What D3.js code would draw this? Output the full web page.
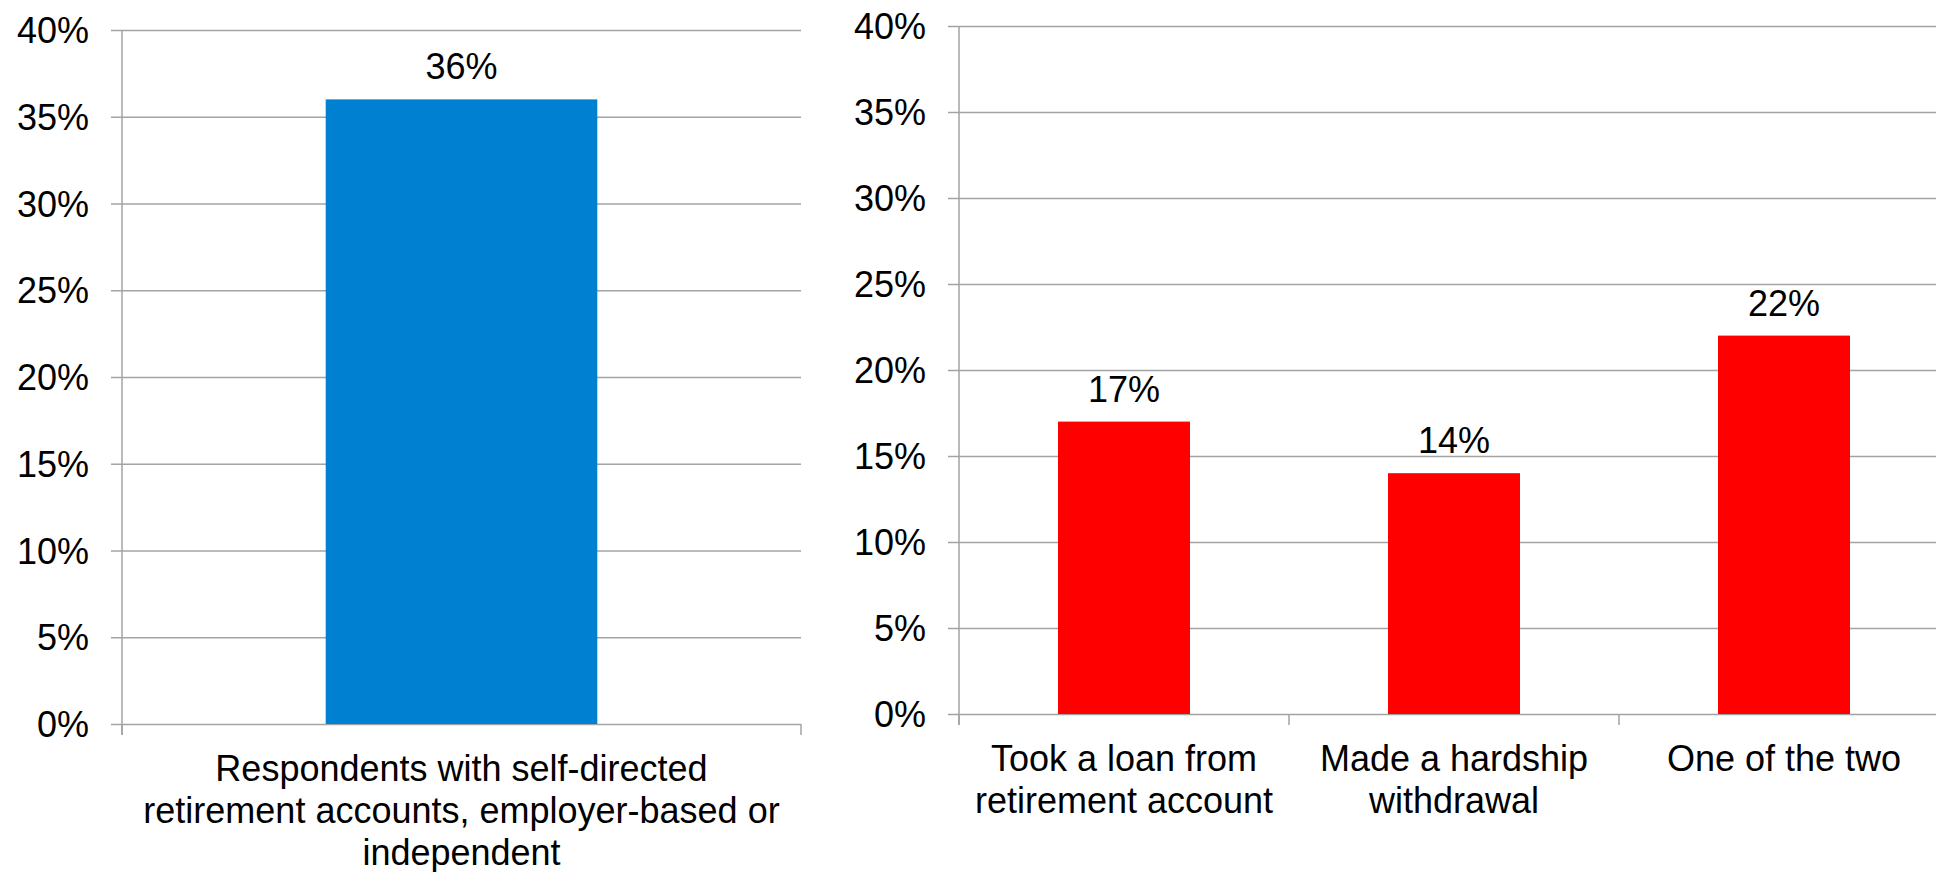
<!DOCTYPE html>
<html>
<head>
<meta charset="utf-8">
<script src="https://cdn.jsdelivr.net/npm/d3@7"></script>
<style>
  html, body { margin: 0; padding: 0; background: #fff; }
  svg { display: block; }
  text { font-family: "Liberation Sans", Arial, sans-serif; fill: #000; }
</style>
</head>
<body>
<svg id="chart" width="1936" height="872"></svg>
<script>
// Share of respondents holding self-directed retirement accounts
const leftCategories = ["Respondents with self-directed\nretirement accounts, employer-based or\nindependent"];
const leftValues = [36];

// Among them: pre-retirement access to savings
const rightCategories = ["Took a loan from\nretirement account", "Made a hardship\nwithdrawal", "One of the two"];
const rightValues = [17, 14, 22];

const yTicks = [0, 5, 10, 15, 20, 25, 30, 35, 40];
const yTickLabels = ["0%", "5%", "10%", "15%", "20%", "25%", "30%", "35%", "40%"];

const svg = d3.select("#chart");
const FONT = 36;
const GRID = "#a3a3a3";

function panel(cfg) {
  const { categories, values, color, x0, x1, yBottom, yTop } = cfg;
  const g = svg.append("g");

  const y = d3.scaleLinear().domain([0, 40]).range([yBottom, yTop]);
  const x = d3.scaleBand().domain(categories).range([x0, x1])
    .paddingInner(0.6).paddingOuter(0.3);

  // value axis with gridlines running across the plot
  const yAxis = d3.axisLeft(y)
    .tickValues(yTicks)
    .tickFormat((d, i) => yTickLabels[i])
    .tickSize(11)
    .tickPadding(22);
  const ya = g.append("g").attr("transform", `translate(${x0},0)`).call(yAxis);
  ya.select(".domain").remove();
  ya.selectAll(".tick line")
    .attr("x1", -11).attr("x2", x1 - x0)
    .attr("stroke", GRID).attr("stroke-width", 1.5);
  ya.selectAll(".tick text")
    .attr("font-size", FONT)
    .attr("font-family", "Liberation Sans, Arial, sans-serif")
    .attr("fill", "#000")
    .attr("dy", "0.35em");

  // vertical axis line
  g.append("line")
    .attr("x1", x0).attr("x2", x0)
    .attr("y1", yTop).attr("y2", yBottom + 11)
    .attr("stroke", GRID).attr("stroke-width", 1.5);

  // category tick marks at band boundaries
  const bounds = d3.range(categories.length + 1).map(i => x0 + i * x.step());
  g.selectAll(".ctick").data(bounds).join("line")
    .attr("class", "ctick")
    .attr("x1", d => d).attr("x2", d => d)
    .attr("y1", yBottom).attr("y2", yBottom + 11)
    .attr("stroke", GRID).attr("stroke-width", 1.5);

  // bars
  const data = categories.map((c, i) => ({ c, v: values[i] }));
  g.selectAll(".bar").data(data).join("rect")
    .attr("class", "bar")
    .attr("x", d => x(d.c))
    .attr("width", x.bandwidth())
    .attr("y", d => y(d.v))
    .attr("height", d => y(0) - y(d.v))
    .attr("fill", color);

  // value labels
  g.selectAll(".vlabel").data(data).join("text")
    .attr("class", "vlabel")
    .attr("x", d => x(d.c) + x.bandwidth() / 2)
    .attr("y", d => y(d.v) - 20)
    .attr("text-anchor", "middle")
    .attr("font-size", FONT)
    .text(d => d.v + "%");

  // category labels
  data.forEach(d => {
    const t = g.append("text")
      .attr("text-anchor", "middle")
      .attr("font-size", FONT)
      .attr("x", x(d.c) + x.bandwidth() / 2)
      .attr("y", yBottom + 57);
    d.c.split("\n").forEach((line, i) => {
      t.append("tspan")
        .attr("x", x(d.c) + x.bandwidth() / 2)
        .attr("dy", i === 0 ? 0 : 42)
        .text(line);
    });
  });
}

panel({ categories: leftCategories, values: leftValues, color: "#0080d0",
        x0: 122, x1: 801, yBottom: 724, yTop: 30 });
panel({ categories: rightCategories, values: rightValues, color: "#ff0000",
        x0: 959, x1: 1949, yBottom: 714, yTop: 26 });
</script>
</body>
</html>
